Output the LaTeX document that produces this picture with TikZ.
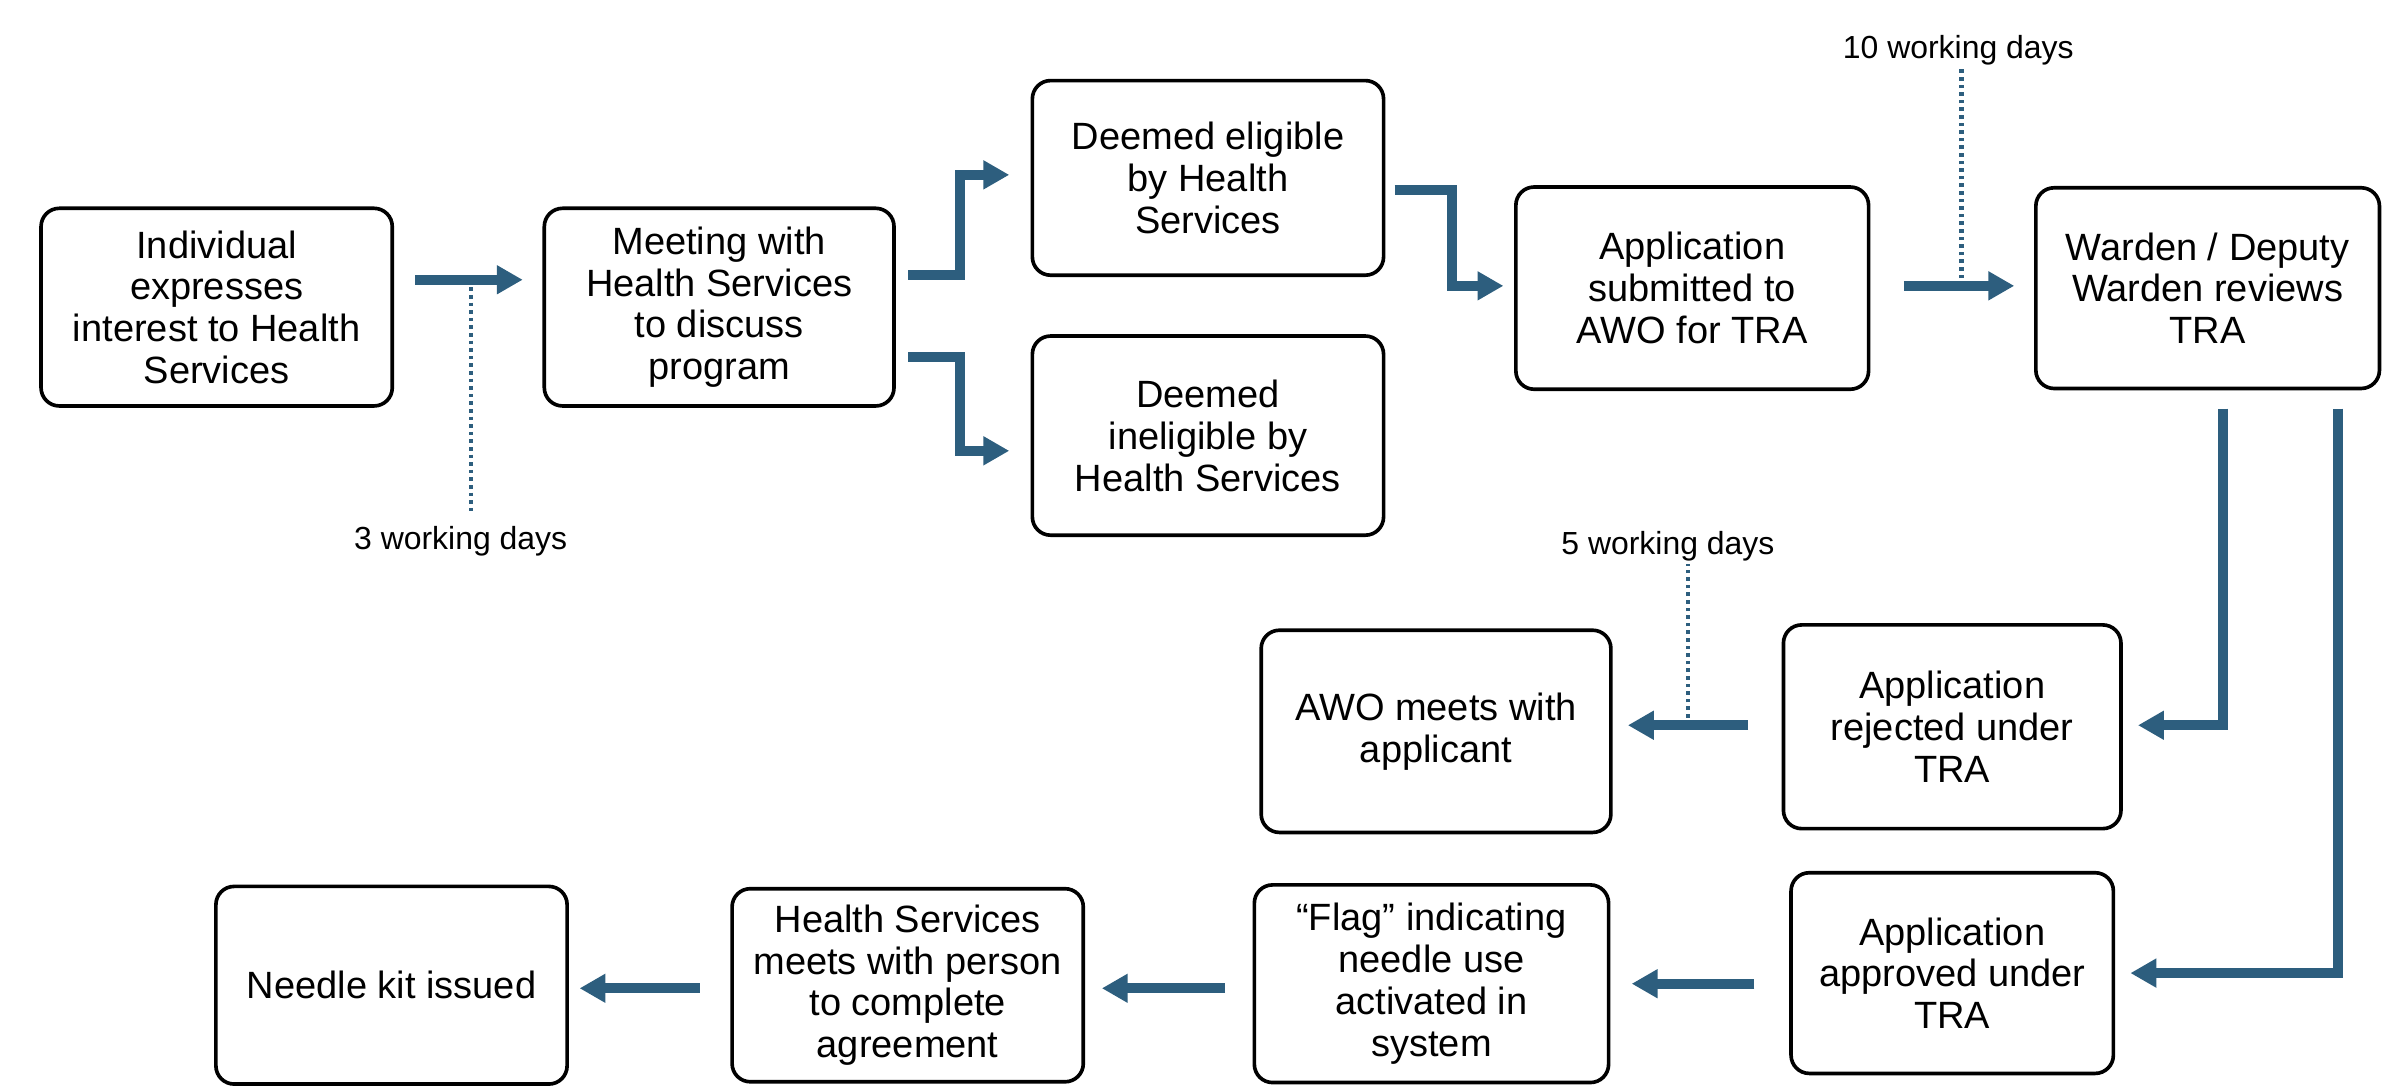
\documentclass[tikz,border=0pt]{standalone}
\usepackage{fontspec}
\setmainfont{Liberation Sans}
\usetikzlibrary{arrows.meta}
\definecolor{flowblue}{RGB}{45,94,126}

\begin{document}
\begin{tikzpicture}[x=1pt, y=1pt,
        box/.style={draw, line width=2.4pt, rounded corners=12pt, align=center, inner sep=0pt,
            font=\fontsize{25}{27.5}\selectfont},
        flow/.style={draw=flowblue, line width=6.5pt, line join=miter,
            -{Triangle[length=17pt, width=18pt]}},
        wait/.style={draw=flowblue, line width=3pt, dash pattern=on 2.4pt off 2.6pt},
        days/.style={inner sep=0pt, font=\fontsize{21}{25}\selectfont}]
        \useasboundingbox (0,0) rectangle (1568,-716);

        % top row
        \node[box, minimum width=231pt, minimum height=130pt] (b1) at (142.5,-202)
            {Individual\\expresses\\interest to Health\\Services};
        \node[box, minimum width=230pt, minimum height=130pt] (b2) at (473,-202)
            {Meeting with\\Health Services\\to discuss\\program};
        \node[box, minimum width=231pt, minimum height=128pt] (b3) at (794.5,-117)
            {Deemed eligible\\by Health\\Services};
        \node[box, minimum width=231pt, minimum height=131pt] (b4) at (794.5,-286.5)
            {Deemed\\ineligible by\\Health Services};
        \node[box, minimum width=232pt, minimum height=133pt] (b5) at (1113,-189.5)
            {Application\\submitted to\\AWO for TRA};
        \node[box, minimum width=226pt, minimum height=132pt] (b6) at (1452,-189.5)
            {Warden / Deputy\\Warden reviews\\TRA};

        % middle row
        \node[box, minimum width=222pt, minimum height=134pt] (b7) at (1284,-478)
            {Application\\rejected under\\TRA};
        \node[box, minimum width=230pt, minimum height=133pt] (b8) at (944.5,-481)
            {AWO meets with\\applicant};

        % bottom row
        \node[box, minimum width=212pt, minimum height=132pt] (b9) at (1284,-640)
            {Application\\approved under\\TRA};
        \node[box, minimum width=233pt, minimum height=130pt] (b10) at (941.5,-647)
            {“Flag” indicating\\needle use\\activated in\\system};
        \node[box, minimum width=231pt, minimum height=127pt] (b11) at (597,-648)
            {Health Services\\meets with person\\to complete\\agreement};
        \node[box, minimum width=231pt, minimum height=130pt] (b12) at (257.5,-648)
            {Needle kit issued};

        \node[days] (l1) at (303,-356) {3 working days};
        \node[days] (l2) at (1288,-33) {10 working days};
        \node[days] (l3) at (1097,-359) {5 working days};

        \draw[flow] ([xshift=14pt, yshift=18pt]b1.east) -- coordinate[pos=0.52] (w1)
            ([xshift=-13pt, yshift=18pt]b2.west);
        \draw[flow] ([xshift=8pt, yshift=21pt]b2.east) -- ++(34,0)
            |- ([xshift=-14pt, yshift=2pt]b3.west);
        \draw[flow] ([xshift=8pt, yshift=-33pt]b2.east) -- ++(34,0)
            |- ([xshift=-14pt, yshift=-10pt]b4.west);
        \draw[flow] ([xshift=6pt, yshift=-8pt]b3.east) -- ++(38,0)
            |- ([xshift=-7pt, yshift=1.5pt]b5.west);
        \draw[flow] ([xshift=22pt, yshift=1.5pt]b5.east) -- coordinate[pos=0.52] (w2)
            ([xshift=-13pt, yshift=1.5pt]b6.west);
        \draw[flow] ([xshift=10pt, yshift=-12pt]b6.south) |- ([xshift=10pt, yshift=1pt]b7.east);
        \draw[flow] ([xshift=86pt, yshift=-12pt]b6.south) |- ([xshift=10pt]b9.east);
        \draw[flow] ([xshift=-22pt, yshift=1pt]b7.west) -- coordinate[pos=0.5] (w3)
            ([xshift=10pt, yshift=4pt]b8.east);
        \draw[flow] ([xshift=-23pt, yshift=-7pt]b9.west) -- ([xshift=14pt]b10.east);
        \draw[flow] ([xshift=-18pt, yshift=-3pt]b10.west) -- ([xshift=11pt, yshift=-2pt]b11.east);
        \draw[flow] ([xshift=-20pt, yshift=-2pt]b11.west) -- ([xshift=7pt, yshift=-2pt]b12.east);

        \draw[wait] (w1) -- ([yshift=10pt]w1 |- l1.north);
        \draw[wait] (w2) -- ([yshift=-2pt]w2 |- l2.south);
        \draw[wait] (w3) -- ([yshift=-2pt]w3 |- l3.south);
    \end{tikzpicture}
\end{document}
